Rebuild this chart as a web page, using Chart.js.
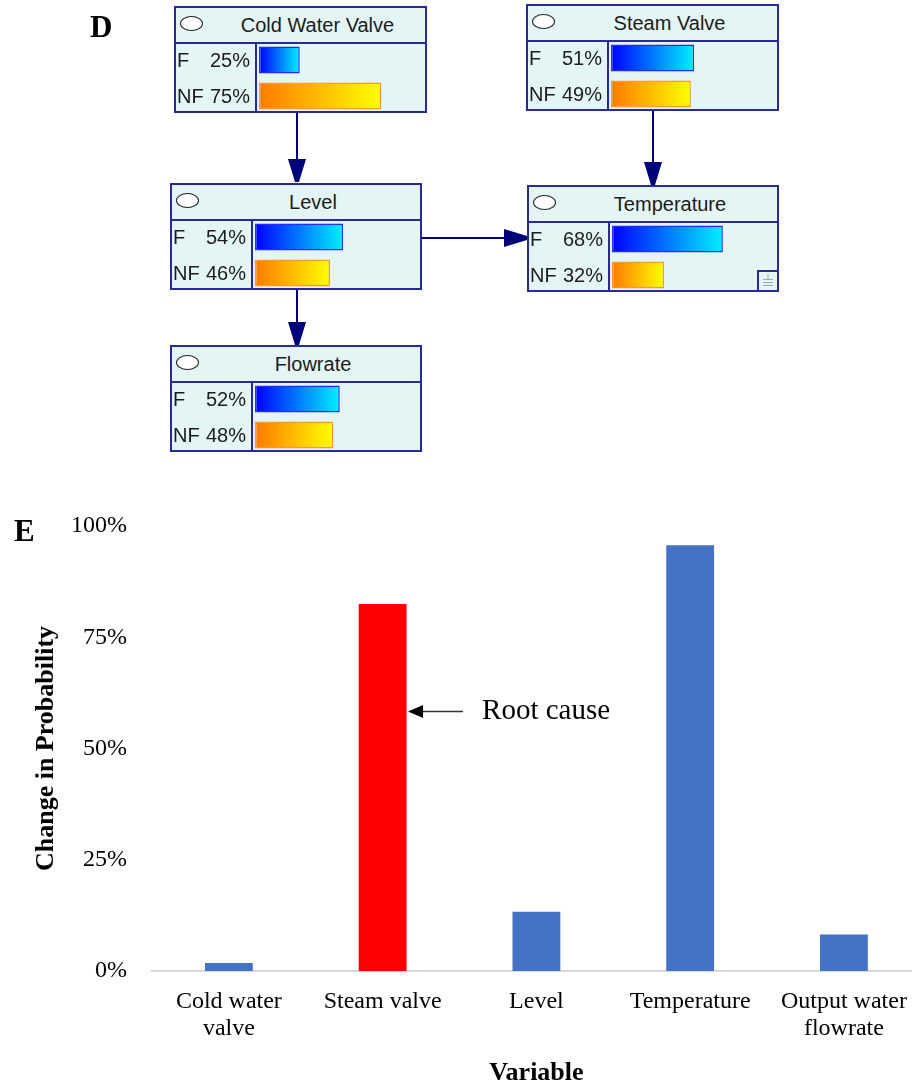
<!DOCTYPE html>
<html>
<head>
<meta charset="utf-8">
<title>Fault diagnosis network and probability change</title>
<script src="https://cdn.jsdelivr.net/npm/chart.js@4.4.0/dist/chart.umd.min.js"></script>
<style>
  html, body { margin: 0; padding: 0; background: #fff; }
  body { width: 912px; height: 1084px; position: relative; overflow: hidden; }
  .panel-letter { position: absolute; font: bold 31px "Liberation Serif", "Times New Roman", serif; line-height: 31px; color: #000; z-index: 3; }
  #links { position: absolute; left: 0; top: 0; z-index: 0; }
  .node { position: absolute; box-sizing: border-box; height: 107px; border: 2px solid #2a2a96; background: #e3f5f5; z-index: 1;
          font-family: "Liberation Sans", Arial, sans-serif; color: #1c1c1c; }
  .node .title { position: absolute; left: 0; right: 0; top: 0; height: 34px; border-bottom: 2px solid #2a2a96; }
  .node .oval { position: absolute; left: 4px; top: 8px; width: 21px; height: 13px; border: 1.7px solid #222; border-radius: 50%; background: #fff; }
  .node .name { position: absolute; left: 34px; right: 0; top: 0; height: 34px; line-height: 34px; text-align: center; font-size: 20px; }
  .node .states { position: absolute; left: 0; top: 36px; bottom: 0; width: 79px; border-right: 2px solid #2a2a96; }
  .node .row { position: absolute; left: 1px; right: 5px; height: 24px; line-height: 24px; font-size: 20px; display: flex; justify-content: space-between; }
  .node canvas { position: absolute; left: 83px; top: 34px; }
  .node .gnd { position: absolute; right: 0; bottom: 0; width: 18px; height: 18px; border-left: 2px solid #2a2a96; border-top: 2px solid #2a2a96; }
  #change { position: absolute; left: 1px; top: 490px; z-index: 2; }
</style>
</head>
<body>
<div class="panel-letter" style="left:90px;top:11px;">D</div>
<div class="panel-letter" style="left:14px;top:515px;">E</div>
<canvas id="links" width="912" height="470"></canvas>
<div id="network"></div>
<canvas id="change" width="924" height="594"></canvas>

<script>
// ---- Bayesian network node states (percent) ----
const nodeNames   = ['Cold Water Valve', 'Steam Valve', 'Level', 'Temperature', 'Flowrate'];
const stateLabels = ['F', 'NF'];
const failProb    = [25, 51, 54, 68, 52];
const notFailProb = [75, 49, 46, 32, 48];

// ---- Change in probability per variable ----
const variables = [['Cold water', 'valve'], 'Steam valve', 'Level', 'Temperature', ['Output water', 'flowrate']];
const changeInProbability = [1.8, 82.5, 13.3, 95.7, 8.2];
const probabilityTicks = [0, 25, 50, 75, 100];
const rootCauseIndex = 1;
const rootCauseText = 'Root cause';
const rootCauseArrowAt = 58.3;

// ---- Node placement on the page ----
const nodeBoxes = [
  { left: 174, top: 6,   width: 253 },
  { left: 526, top: 4,   width: 253 },
  { left: 170, top: 183, width: 252 },
  { left: 527, top: 185, width: 252 },
  { left: 170, top: 345, width: 252 }
];
const groundedNode = 3;

const SERIF = '"Liberation Serif", "Times New Roman", serif';

// Gradient fill across each bar's own length
function stateFill(ctx) {
  const stops = ctx.dataIndex === 0 ? ['#0000ff', '#00f0ff'] : ['#ff7a00', '#ffff00'];
  const xs = ctx.chart.scales && ctx.chart.scales.x;
  if (!xs || ctx.raw == null) return stops[0];
  const x0 = xs.getPixelForValue(0);
  const x1 = xs.getPixelForValue(ctx.raw);
  if (!isFinite(x0) || !isFinite(x1) || x1 <= x0) return stops[0];
  const g = ctx.chart.ctx.createLinearGradient(x0, 0, x1, 0);
  g.addColorStop(0, stops[0]);
  g.addColorStop(1, stops[1]);
  return g;
}

const stateCharts = [];
const network = document.getElementById('network');
nodeNames.forEach((name, i) => {
  const box = nodeBoxes[i];
  const values = [failProb[i], notFailProb[i]];
  const node = document.createElement('div');
  node.className = 'node';
  node.style.left = box.left + 'px';
  node.style.top = box.top + 'px';
  node.style.width = box.width + 'px';
  node.innerHTML =
    '<div class="title"><div class="oval"></div><div class="name"></div></div>' +
    '<div class="states"></div>';
  node.querySelector('.name').textContent = name;
  const states = node.querySelector('.states');
  stateLabels.forEach((s, k) => {
    const row = document.createElement('div');
    row.className = 'row';
    row.style.top = (4 + 36 * k) + 'px';
    const a = document.createElement('span'); a.textContent = s;
    const b = document.createElement('span'); b.textContent = values[k] + '%';
    row.appendChild(a); row.appendChild(b);
    states.appendChild(row);
  });
  const cv = document.createElement('canvas');
  cv.width = 163; cv.height = 72;
  node.appendChild(cv);
  if (i === groundedNode) {
    const g = document.createElement('div');
    g.className = 'gnd';
    g.innerHTML = '<svg width="18" height="18" viewBox="0 0 18 18">' +
      '<g stroke="#a3a3ad" stroke-width="1" fill="none">' +
      '<line x1="9" y1="2" x2="9" y2="7"/><line x1="4" y1="7.5" x2="14" y2="7.5"/>' +
      '<line x1="4" y1="10.5" x2="14" y2="10.5"/><line x1="4" y1="13.5" x2="14" y2="13.5"/></g></svg>';
    node.appendChild(g);
  }
  network.appendChild(node);

  stateCharts.push(new Chart(cv, {
    type: 'bar',
    data: {
      labels: stateLabels,
      datasets: [{
        data: values,
        backgroundColor: stateFill,
        borderColor: ['#2a2aff', '#ff9a20'],
        borderWidth: 1.5,
        borderSkipped: false,
        barPercentage: 0.75,
        categoryPercentage: 1
      }]
    },
    options: {
      indexAxis: 'y',
      responsive: false,
      animation: false,
      devicePixelRatio: 1,
      events: [],
      layout: { padding: 0 },
      plugins: { legend: { display: false }, tooltip: { enabled: false } },
      scales: {
        x: { min: 0, max: 100, display: false },
        y: { display: false }
      }
    }
  }));
});
// second pass so the gradients use the laid-out value scale
stateCharts.forEach(ch => ch.update('none'));

// Links between nodes
(function drawLinks() {
  const c = document.getElementById('links').getContext('2d');
  c.strokeStyle = '#00007a';
  c.fillStyle = '#00007a';
  c.lineWidth = 2;
  function down(x, y0, tip) {
    c.beginPath(); c.moveTo(x, y0); c.lineTo(x, tip); c.stroke();
    c.beginPath();
    c.moveTo(x - 9, tip - 23); c.lineTo(x + 9, tip - 23);
    c.lineTo(x + 2, tip); c.lineTo(x - 2, tip); c.closePath(); c.fill();
  }
  function right(y, x0, tip) {
    c.beginPath(); c.moveTo(x0, y); c.lineTo(tip, y); c.stroke();
    c.beginPath();
    c.moveTo(tip - 23, y - 9); c.lineTo(tip - 23, y + 9);
    c.lineTo(tip, y + 2); c.lineTo(tip, y - 2); c.closePath(); c.fill();
  }
  down(297, 113, 182);
  down(653, 111, 185);
  down(297, 290, 345);
  right(238, 422, 527);
})();

// Arrow and text pointing at the root-cause bar
const rootCauseMarker = {
  id: 'rootCauseMarker',
  afterDatasetsDraw(chart) {
    const bar = chart.getDatasetMeta(0).data[rootCauseIndex];
    const y = chart.scales.y.getPixelForValue(rootCauseArrowAt);
    const tipX = bar.x + bar.width / 2 + 1.5;
    const c = chart.ctx;
    c.save();
    c.strokeStyle = '#333';
    c.lineWidth = 1.5;
    c.beginPath(); c.moveTo(tipX + 12, y); c.lineTo(tipX + 55, y); c.stroke();
    c.fillStyle = '#000';
    c.beginPath(); c.moveTo(tipX, y); c.lineTo(tipX + 15, y - 6.5); c.lineTo(tipX + 15, y + 6.5); c.closePath(); c.fill();
    c.font = '29px ' + SERIF;
    c.textBaseline = 'middle';
    c.textAlign = 'left';
    c.fillText(rootCauseText, tipX + 74, y);
    c.restore();
  }
};

new Chart(document.getElementById('change'), {
  type: 'bar',
  data: {
    labels: variables,
    datasets: [{
      data: changeInProbability,
      backgroundColor: variables.map((_, i) => i === rootCauseIndex ? '#ff0000' : '#4472c4'),
      borderWidth: 0,
      barPercentage: 0.311,
      categoryPercentage: 1
    }]
  },
  options: {
    responsive: false,
    animation: false,
    devicePixelRatio: 1,
    events: [],
    layout: { padding: { top: 36, right: 1, left: 0, bottom: 0 } },
    plugins: { legend: { display: false }, tooltip: { enabled: false } },
    scales: {
      x: {
        grid: { display: false, drawTicks: false },
        border: { display: true, color: '#d9d9d9', width: 2 },
        ticks: { color: '#000', font: { family: SERIF, size: 24, lineHeight: 1.1 }, padding: 18, maxRotation: 0, minRotation: 0, autoSkip: false },
        title: { display: true, text: 'Variable', color: '#000', font: { family: SERIF, size: 26, weight: 'bold', lineHeight: 0.85 }, padding: { top: 0, bottom: 0 } },
        afterFit: s => { s.height = 113; }
      },
      y: {
        min: 0, max: 100,
        grid: { display: false, drawTicks: false },
        border: { display: false },
        afterBuildTicks: s => { s.ticks = probabilityTicks.map(v => ({ value: v })); },
        ticks: { color: '#000', font: { family: SERIF, size: 24 }, padding: 25, callback: v => v + '%' },
        title: { display: true, text: 'Change in Probability', color: '#000', font: { family: SERIF, size: 26, weight: 'bold', lineHeight: 1.2 }, padding: { top: 30, bottom: 0 } },
        afterFit: s => { s.width = 151; s.paddingTop = 0; s.paddingBottom = 0; }
      }
    }
  },
  plugins: [rootCauseMarker]
});
</script>
</body>
</html>
